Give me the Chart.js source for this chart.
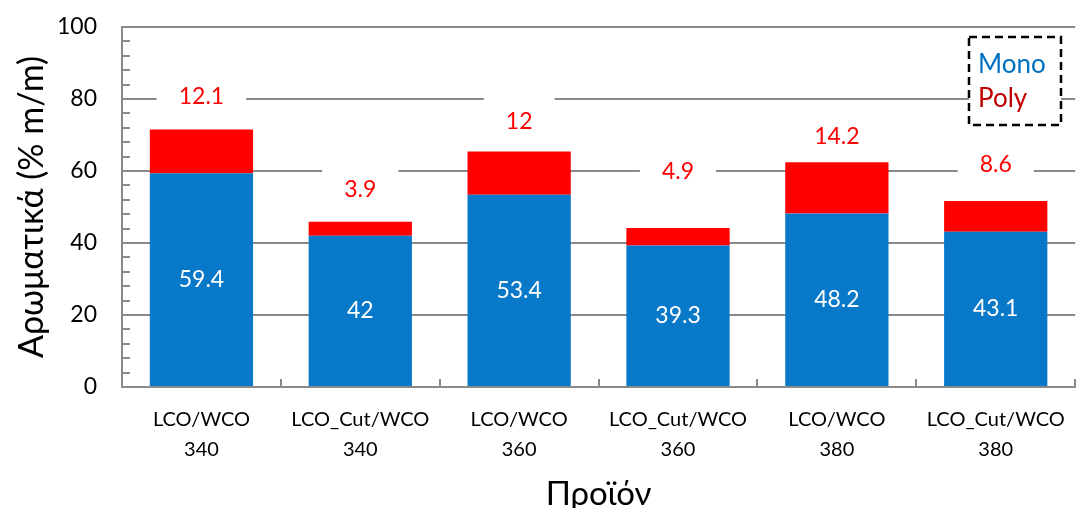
<!DOCTYPE html>
<html>
<head>
<meta charset="utf-8">
<script src="https://cdn.jsdelivr.net/npm/chart.js@4/dist/chart.umd.min.js"></script>
<style>
  html, body { margin: 0; padding: 0; background: #ffffff; }
  #wrap { width: 1083px; height: 508px; }
</style>
</head>
<body>
<div id="wrap"><canvas id="c" width="1083" height="508"></canvas></div>
<script>
// Product categories (two-line labels) and the two aromatic fractions
const categories = [
  ['LCO/WCO', '340'],
  ['LCO_Cut/WCO', '340'],
  ['LCO/WCO', '360'],
  ['LCO_Cut/WCO', '360'],
  ['LCO/WCO', '380'],
  ['LCO_Cut/WCO', '380']
];
const monoValues = [59.4, 42, 53.4, 39.3, 48.2, 43.1];
const polyValues = [12.1, 3.9, 12, 4.9, 14.2, 8.6];
const yTicks = [0, 20, 40, 60, 80, 100];
const seriesNames = ['Mono', 'Poly'];

// Styling
const FONT = "Lato, 'Noto Sans', sans-serif";
const monoColor = '#0878C9';
const polyColor = '#FF0000';
const legendColors = ['#0070C0', '#C00000'];
const gridColor = '#8A8A8A';
const polyLabelLift = [33, 32, 30, 56, 26, 36];   // gap (px) between bar top and the Poly label

const valueLabels = {
  id: 'valueLabels',
  beforeDatasetsDraw(chart) {
    // white boxes behind the Poly labels break the gridlines
    const ctx = chart.ctx;
    ctx.save();
    ctx.font = '23px ' + FONT;
    ctx.fillStyle = '#ffffff';
    chart.getDatasetMeta(1).data.forEach((bar, i) => {
      const t = String(polyValues[i]);
      const w = ctx.measureText(t).width + 44;
      const y = bar.y - polyLabelLift[i];
      ctx.fillRect(bar.x - w / 2, y - 24, w, 48);
    });
    ctx.restore();
  },
  afterDatasetsDraw(chart) {
    const ctx = chart.ctx;
    const area = chart.chartArea;
    const ys = chart.scales.y;
    ctx.save();
    ctx.textAlign = 'center';
    ctx.textBaseline = 'middle';
    ctx.font = '23px ' + FONT;

    // Mono values inside the blue segments
    ctx.fillStyle = '#ffffff';
    chart.getDatasetMeta(0).data.forEach((bar, i) => {
      ctx.fillText(String(monoValues[i]), bar.x, (bar.y + bar.base) / 2);
    });
    // Poly values above the stacks
    ctx.fillStyle = polyColor;
    chart.getDatasetMeta(1).data.forEach((bar, i) => {
      ctx.fillText(String(polyValues[i]), bar.x, bar.y - polyLabelLift[i]);
    });

    // inward tick marks on the value axis (every 4 units)
    ctx.strokeStyle = gridColor;
    ctx.lineWidth = 2;
    ctx.beginPath();
    for (let v = 0; v <= 100; v += 4) {
      const y = Math.round(ys.getPixelForValue(v));
      ctx.moveTo(area.left, y);
      ctx.lineTo(area.left + 8, y);
    }
    // inward tick marks between categories
    const n = categories.length;
    const step = (area.right - area.left) / n;
    for (let k = 1; k <= n; k++) {
      const x = Math.round(area.left + k * step);
      ctx.moveTo(x, area.bottom);
      ctx.lineTo(x, area.bottom - 8);
    }
    ctx.stroke();

    // legend in a dashed frame
    const lx = 969, ly = 37, lw = 92, lh = 88;
    ctx.fillStyle = '#ffffff';
    ctx.fillRect(lx, ly, lw, lh);
    ctx.setLineDash([8, 5]);
    ctx.strokeStyle = '#000000';
    ctx.lineWidth = 2.5;
    ctx.strokeRect(lx, ly, lw, lh);
    ctx.setLineDash([]);
    ctx.textAlign = 'left';
    ctx.font = '26px ' + FONT;
    chart.data.datasets.forEach((ds, i) => {
      ctx.fillStyle = legendColors[i];
      ctx.fillText(ds.label, lx + 9, ly + 28 + i * 34);
    });
    ctx.restore();
  }
};

new Chart(document.getElementById('c'), {
  type: 'bar',
  data: {
    labels: categories,
    datasets: [
      { label: seriesNames[0], data: monoValues, backgroundColor: monoColor },
      { label: seriesNames[1], data: polyValues, backgroundColor: polyColor }
    ]
  },
  options: {
    responsive: false,
    animation: false,
    events: [],
    barPercentage: 0.65,
    categoryPercentage: 1.0,
    layout: { padding: { top: 27, right: 3, left: 0, bottom: 0 } },
    plugins: { legend: { display: false }, tooltip: { enabled: false } },
    scales: {
      x: {
        stacked: true,
        grid: { display: false, drawTicks: false },
        border: { display: true, color: gridColor, width: 2 },
        ticks: {
          color: '#000000',
          font: { family: FONT, size: 20, lineHeight: 1.5 },
          padding: 18,
          maxRotation: 0,
          autoSkip: false
        },
        title: {
          display: true,
          text: 'Προϊόν',
          color: '#000000',
          font: { family: FONT, size: 33 },
          padding: { top: 0, bottom: -6 }
        },
        afterFit(scale) { scale.height = 121; }
      },
      y: {
        stacked: true,
        min: 0,
        max: 100,
        afterBuildTicks(scale) { scale.ticks = yTicks.map(v => ({ value: v })); },
        grid: { color: gridColor, lineWidth: 2, drawTicks: false },
        border: { display: true, color: gridColor, width: 2 },
        ticks: {
          color: '#000000',
          font: { family: FONT, size: 23 },
          padding: 25
        },
        title: {
          display: true,
          text: 'Αρωματικά (% m/m)',
          color: '#000000',
          font: { family: FONT, size: 34 },
          padding: { top: 12, bottom: 0 }
        },
        afterFit(scale) {
          scale.width = 122;
          scale.paddingTop = 0;
          scale.paddingBottom = 0;
        }
      }
    }
  },
  plugins: [valueLabels]
});
</script>
</body>
</html>
